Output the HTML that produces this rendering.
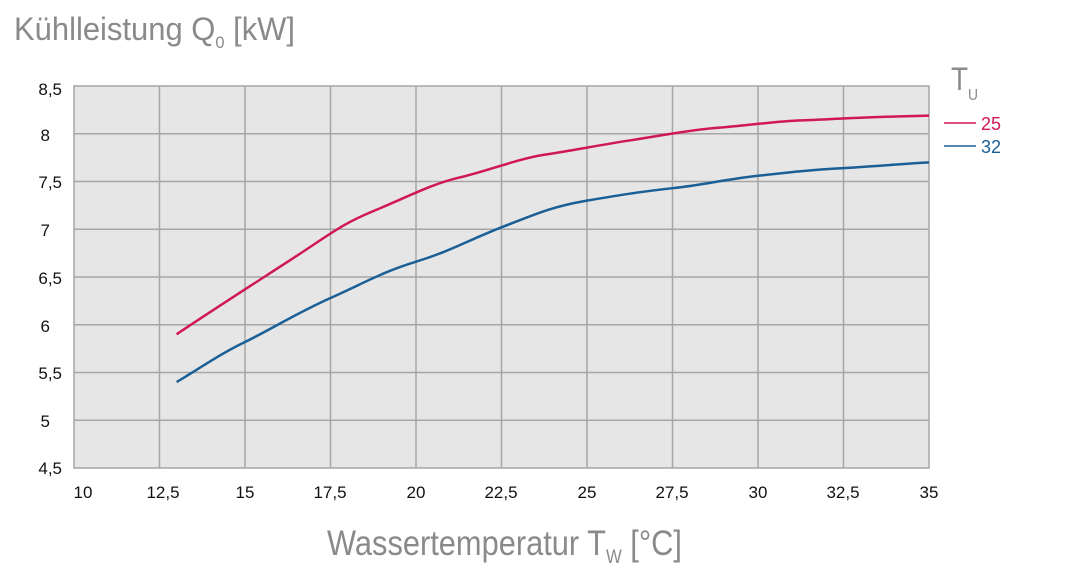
<!DOCTYPE html><html><head><meta charset="utf-8"><style>
body{margin:0;background:#fff;width:1068px;height:568px;overflow:hidden}
text{font-family:"Liberation Sans",sans-serif}
.t{fill:#8a8a8a}
</style></head><body>
<svg width="1068" height="568" xmlns="http://www.w3.org/2000/svg">
<text class="t" x="14" y="40" font-size="32" textLength="281" lengthAdjust="spacingAndGlyphs">Kühlleistung Q<tspan font-size="17" dy="8">0</tspan><tspan dy="-8"> [kW]</tspan></text>
<rect x="74" y="86" width="855" height="382" fill="#e6e6e6"/>
<g stroke="#a6a6a6" stroke-width="1.5">
<line x1="159.5" y1="86" x2="159.5" y2="468"/><line x1="245" y1="86" x2="245" y2="468"/><line x1="330.5" y1="86" x2="330.5" y2="468"/><line x1="416" y1="86" x2="416" y2="468"/><line x1="501.5" y1="86" x2="501.5" y2="468"/><line x1="587" y1="86" x2="587" y2="468"/><line x1="672.5" y1="86" x2="672.5" y2="468"/><line x1="758" y1="86" x2="758" y2="468"/><line x1="843.5" y1="86" x2="843.5" y2="468"/>
<line x1="74" y1="133.75" x2="929" y2="133.75"/><line x1="74" y1="181.5" x2="929" y2="181.5"/><line x1="74" y1="229.25" x2="929" y2="229.25"/><line x1="74" y1="277" x2="929" y2="277"/><line x1="74" y1="324.75" x2="929" y2="324.75"/><line x1="74" y1="372.5" x2="929" y2="372.5"/><line x1="74" y1="420.25" x2="929" y2="420.25"/>
<rect x="74" y="86" width="855" height="382" fill="none"/>
</g>
<g font-size="17" fill="#111" text-anchor="end">
<text x="62" y="95">8,5</text><text x="50" y="141">8</text><text x="62" y="188">7,5</text><text x="50" y="236">7</text><text x="62" y="284">6,5</text><text x="50" y="332">6</text><text x="62" y="379">5,5</text><text x="50" y="427">5</text><text x="62" y="474">4,5</text>
</g>
<g font-size="17" fill="#111" text-anchor="middle">
<text x="83" y="498">10</text><text x="163" y="498">12,5</text><text x="245" y="498">15</text><text x="330" y="498">17,5</text><text x="416" y="498">20</text><text x="501" y="498">22,5</text><text x="587" y="498">25</text><text x="672" y="498">27,5</text><text x="758" y="498">30</text><text x="843" y="498">32,5</text><text x="929" y="498">35</text>
</g>
<g transform="translate(74,86) scale(34.2,-95.5) translate(-10,-8.5)" fill="none" stroke-linejoin="round">
<path vector-effect="non-scaling-stroke" stroke="#d0175a" stroke-width="2.5" d="M13,5.9 C14,6.14 15,6.37 16.25,6.66 S17.8,7.05 18.75,7.19 S20.5,7.48 21.25,7.54 S23,7.74 23.75,7.78 S25.5,7.89 26.25,7.93 S28,8.04 28.75,8.06 S30.5,8.13 31.25,8.14 S33.5,8.18 35,8.19"/>
<path vector-effect="non-scaling-stroke" stroke="#1a5f96" stroke-width="2.5" d="M13,5.4 C13.7,5.55 14.3,5.7 15,5.82 S16.5,6.12 17.5,6.28 S19,6.55 20,6.66 S21.5,6.88 22.5,7.02 S24,7.24 25,7.3 S26.5,7.39 27.5,7.43 S29,7.52 30,7.56 S31.5,7.62 32.5,7.64 S34,7.68 35,7.7"/>
</g>
<text class="t" x="951" y="90" font-size="32" textLength="17" lengthAdjust="spacingAndGlyphs">T</text><text class="t" x="968" y="100" font-size="16" textLength="10" lengthAdjust="spacingAndGlyphs">U</text>
<line x1="944" y1="123" x2="976" y2="123" stroke="#d0175a" stroke-width="1.5"/>
<text x="981" y="130" font-size="18" fill="#d0175a">25</text>
<line x1="944" y1="146" x2="976" y2="146" stroke="#1a5f96" stroke-width="1.5"/>
<text x="981" y="153" font-size="18" fill="#1a5f96">32</text>
<text class="t" x="327" y="555" font-size="35" textLength="355" lengthAdjust="spacingAndGlyphs">Wassertemperatur T<tspan font-size="19" dy="8">W</tspan><tspan dy="-8"> [°C]</tspan></text>
</svg>
</body></html>
